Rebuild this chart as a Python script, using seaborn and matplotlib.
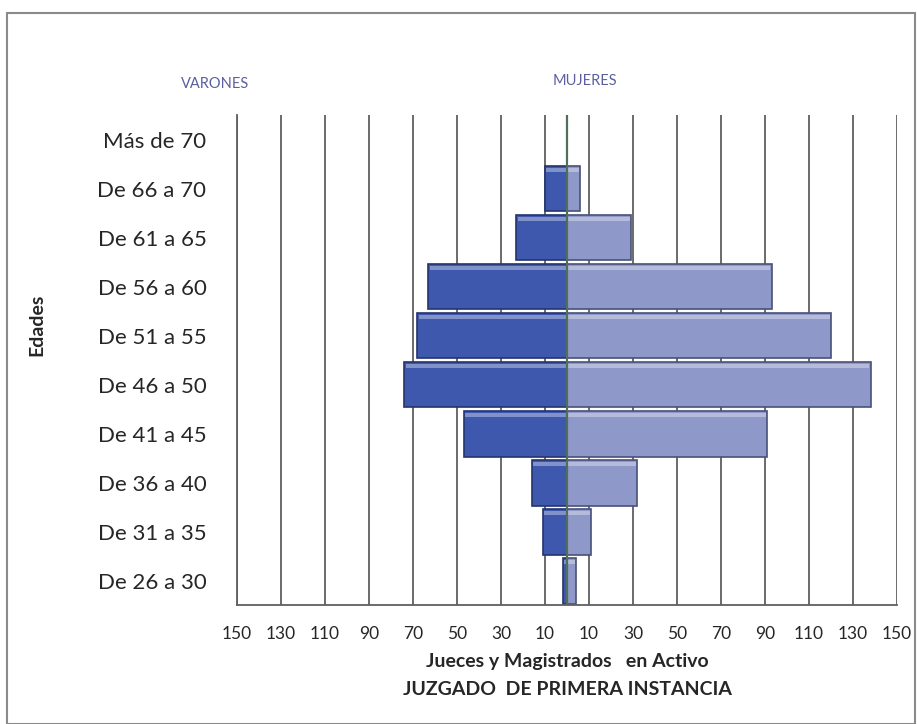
import matplotlib
matplotlib.use('Agg')
import matplotlib.pyplot as plt
import seaborn as sns
import numpy as np
from matplotlib.patches import Rectangle

edades = ['Más de 70', 'De 66 a 70', 'De 61 a 65', 'De 56 a 60', 'De 51 a 55',
          'De 46 a 50', 'De 41 a 45', 'De 36 a 40', 'De 31 a 35', 'De 26 a 30']
varones = [0, 10, 23, 63, 68, 74, 47, 16, 11, 2]
mujeres = [0, 6, 29, 93, 120, 138, 91, 32, 11, 4]
ticks = [-150, -130, -110, -90, -70, -50, -30, -10, 10, 30, 50, 70, 90, 110, 130, 150]

sns.set_style('white')
plt.rcParams['font.family'] = ['Lato', 'DejaVu Sans']

fig = plt.figure(figsize=(9.17, 7.24), dpi=100)
ax = fig.add_axes([0.2585, 0.164, 0.7197, 0.677])

# vertical grid first so bars sit on top
for t in ticks:
    ax.axvline(t, color='#5f5f5f', lw=1.3, zorder=0)

sns.barplot(x=[-v for v in varones], y=edades, color='#3d58ad', saturation=1,
            edgecolor='#24346e', linewidth=1.2, width=0.93, ax=ax, zorder=2)
sns.barplot(x=mujeres, y=edades, color='#8e98c9', saturation=1,
            edgecolor='#4a5078', linewidth=1.2, width=0.93, ax=ax, zorder=2)

# light highlight along the top of each bar
for p in list(ax.patches):
    w = p.get_width()
    if w == 0:
        continue
    ax.add_patch(Rectangle((p.get_x() + (0.6 if w > 0 else -0.6), p.get_y() + 0.04),
                           w - (1.2 if w > 0 else -1.2), 0.08,
                           facecolor='white', alpha=0.35, lw=0, zorder=3))

ax.axvline(0, color='#4f6e5c', lw=1.6, zorder=4)

ax.set_xlim(-150, 150)
ax.set_ylim(9.5, -0.5)
ax.set_xticks(ticks)
ax.set_xticklabels([str(abs(t)) for t in ticks], fontsize=12.5)
ax.tick_params(axis='x', direction='out', length=6, color='#5f5f5f', pad=9)
ax.tick_params(axis='y', length=0, pad=22, labelsize=16)
for s in ['top', 'right']:
    ax.spines[s].set_visible(False)
ax.spines['left'].set_color('#5f5f5f')
ax.spines['bottom'].set_color('#5f5f5f')
ax.spines['left'].set_linewidth(1.3)
ax.spines['bottom'].set_linewidth(1.3)
ax.set_ylabel('')
ax.set_xlabel('Jueces y Magistrados   en Activo\nJUZGADO  DE PRIMERA INSTANCIA',
              fontsize=14, fontweight='bold', labelpad=8, linespacing=1.75)

fig.text(0.04, 0.551, 'Edades', rotation=90, fontsize=14, fontweight='bold',
         ha='center', va='center')
fig.text(0.235, 0.878, 'VARONES', fontsize=10.5, color='#5b5f9e', ha='center')
fig.text(0.638, 0.882, 'MUJERES', fontsize=10.5, color='#5b5f9e', ha='center')

fig.patches.append(Rectangle((0.008, 0.0), 0.99, 0.982, transform=fig.transFigure,
                             fill=False, edgecolor='#8a8a8a', lw=1.5))

fig.savefig('out.png', dpi=100)
